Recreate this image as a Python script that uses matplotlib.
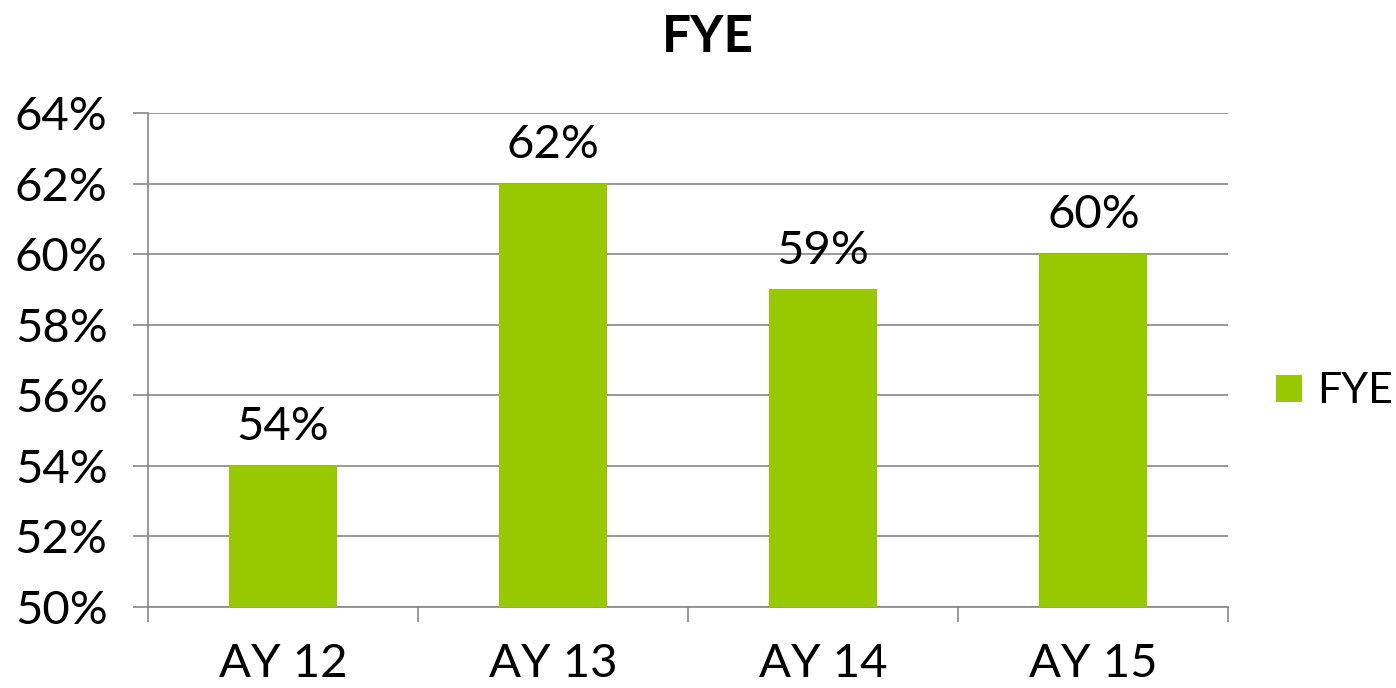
import matplotlib.pyplot as plt
import numpy as np

plt.rcParams['font.family'] = ['Lato', 'DejaVu Sans']

years = ['AY 12', 'AY 13', 'AY 14', 'AY 15']
fye = [54, 62, 59, 60]

fig = plt.figure(figsize=(13.96, 6.88), dpi=100)
ax = fig.add_axes([0.106, 0.1177, 0.774, 0.7181])

x = np.arange(len(years))
bars = ax.bar(x, fye, width=0.4, color='#97C800', label='FYE', zorder=3)

for xi, v in zip(x, fye):
    ax.text(xi, v + 0.5, '{}%'.format(v), ha='center', va='bottom', fontsize=34)

ax.set_ylim(50, 64)
ax.set_xlim(-0.5, 3.5)
ax.set_yticks(range(50, 65, 2))
ax.set_yticklabels(['{}%'.format(t) for t in range(50, 65, 2)], fontsize=34)
ax.set_xticks(x)
ax.set_xticklabels(years, fontsize=34)
ax.set_xticks([-0.5, 0.5, 1.5, 2.5, 3.5], minor=True)
ax.tick_params(axis='x', which='major', length=0, pad=26)
ax.tick_params(axis='x', which='minor', length=11, color='#888888', width=1.2)
ax.tick_params(axis='y', length=11, color='#888888', width=1.2, pad=18)

ax.grid(axis='y', color='#888888', linewidth=1.2, zorder=0)
for s in ['top', 'right']:
    ax.spines[s].set_visible(False)
ax.spines['left'].set_color('#888888')
ax.spines['bottom'].set_color('#888888')
ax.spines['left'].set_linewidth(1.2)
ax.spines['bottom'].set_linewidth(1.2)

fig.text(0.507, 0.945, 'FYE', ha='center', va='center', fontsize=37, fontweight='bold')

fig.legend(handles=[bars], labels=['FYE'], loc='center left',
           bbox_to_anchor=(1276 / 1396, 0.431), bbox_transform=fig.transFigure,
           frameon=False, fontsize=31, borderpad=0, borderaxespad=0,
           handlelength=0.6, handleheight=0.6, handletextpad=0.35)

fig.savefig('out.png', dpi=100)
